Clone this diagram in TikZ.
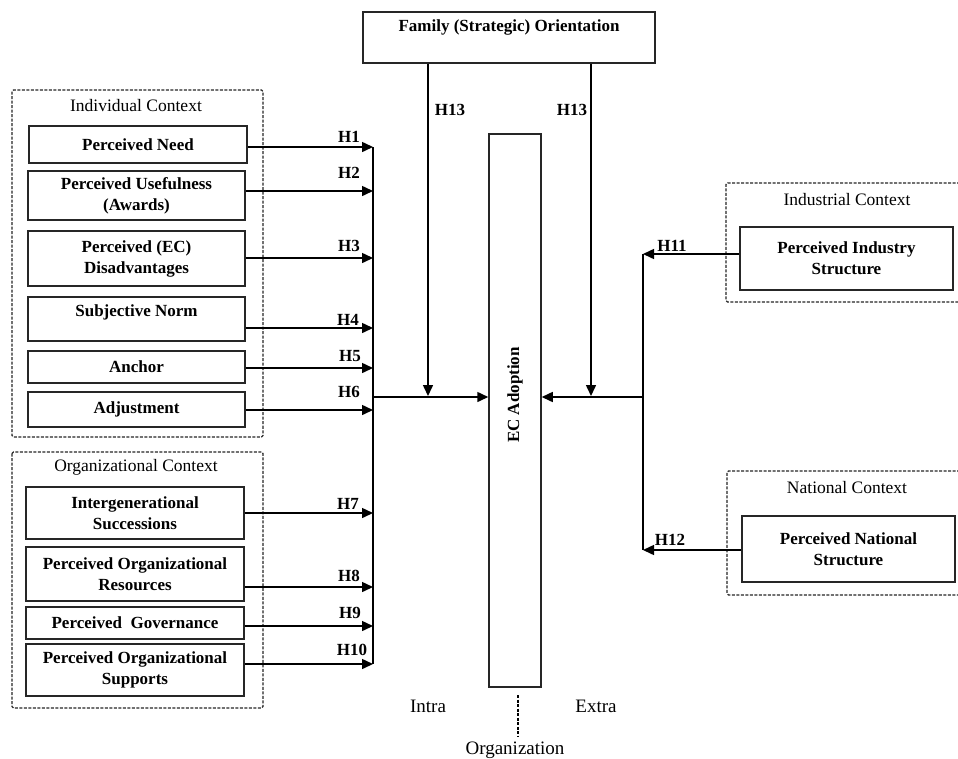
\documentclass[tikz,border=0pt]{standalone}
\usepackage{fontspec}
\setmainfont{Liberation Serif}
\usetikzlibrary{arrows.meta}
\begin{document}
\begin{tikzpicture}[x=1pt,y=-1pt,
 box/.style={draw=black!85,line width=1.5pt,rectangle,inner sep=0pt,align=center,font=\fontsize{17}{21}\selectfont\bfseries},
 btext/.style={inner sep=0pt,align=center,font=\fontsize{17}{21}\selectfont\bfseries},
 hlab/.style={inner sep=0pt,font=\fontsize{17}{20}\selectfont\bfseries},
 ctx/.style={inner sep=0pt,font=\fontsize{17.5}{21}\selectfont},
 bot/.style={inner sep=0pt,anchor=base,font=\fontsize{19}{22}\selectfont},
 ctxbox/.style={draw=black!85,line width=1.2pt,dash pattern=on 3pt off 1.5pt,rounded corners=1.5pt},
 arr/.style={line width=1.5pt,-{Triangle[length=11pt,width=10pt]}},
 ln/.style={line width=1.5pt}]
\useasboundingbox (0,0) rectangle (958,758);
\fill[white] (0,0) rectangle (958,758);

% context frames
\draw[ctxbox] (12,90) rectangle (263,437);
\draw[ctxbox] (12,452) rectangle (263,708);
\draw[ctxbox] (960,183) -- (726,183) -- (726,302) -- (960,302);
\draw[ctxbox] (960,471) -- (727,471) -- (727,595) -- (960,595);
\node[ctx] (icl) at (136,106) {Individual Context};
\node[ctx] (ocl) at (136,467) {Organizational Context};
\node[ctx] (incl) at (847,200) {Industrial Context};
\node[ctx] (nacl) at (847,488) {National Context};

% boxes
\node[box,minimum width=218pt,minimum height=37pt] (pn) at (138,144.5) {Perceived Need};
\node[box,minimum width=217pt,minimum height=49pt] (pu) at (136.5,195.5) {Perceived Usefulness\\(Awards)};
\node[box,minimum width=217pt,minimum height=55pt] (pd) at (136.5,258.5) {Perceived (EC)\\Disadvantages};
\node[box,minimum width=217pt,minimum height=44pt] (sn) at (136.5,319) {};
\node[btext] (snt) at (136.5,312) {Subjective Norm};
\node[box,minimum width=217pt,minimum height=32pt] (an) at (136.5,367) {Anchor};
\node[box,minimum width=217pt,minimum height=35pt] (ad) at (136.5,409.5) {Adjustment};
\node[box,minimum width=218pt,minimum height=52pt] (ig) at (135,513) {Intergenerational\\Successions};
\node[box,minimum width=218pt,minimum height=54pt] (po) at (135,574) {Perceived Organizational\\Resources};
\node[box,minimum width=218pt,minimum height=32pt] (pg) at (135,623) {Perceived\ \ Governance};
\node[box,minimum width=218pt,minimum height=52pt] (ps) at (135,670) {Perceived Organizational\\Supports};
\node[box,minimum width=292pt,minimum height=51pt] (fam) at (509,37.5) {};
\node[btext] (famt) at (509,27) {Family (Strategic) Orientation};
\node[box,minimum width=52pt,minimum height=553pt] (ec) at (515,410.5) {};
\node[btext,rotate=90] (ect) at (515,395) {EC Adoption};
\node[box,minimum width=213pt,minimum height=63pt] (pis) at (846.5,258.5) {Perceived Industry\\Structure};
\node[box,minimum width=213pt,minimum height=66pt] (pns) at (848.5,549) {Perceived National\\Structure};

% left bus
\coordinate (b1) at (373,147);
\coordinate (b2) at (373,191);
\coordinate (b3) at (373,258);
\coordinate (b4) at (373,328);
\coordinate (b5) at (373,368);
\coordinate (b6) at (373,410);
\coordinate (b7) at (373,513);
\coordinate (b8) at (373,587);
\coordinate (b9) at (373,626);
\coordinate (b10) at (373,664);
\coordinate (bm) at (373,397);
\draw[ln] (b1) -- (b10);
\draw[arr] (pn.east |- b1) -- (b1);
\draw[arr] (pu.east |- b2) -- (b2);
\draw[arr] (pd.east |- b3) -- (b3);
\draw[arr] (sn.east |- b4) -- (b4);
\draw[arr] (an.east |- b5) -- (b5);
\draw[arr] (ad.east |- b6) -- (b6);
\draw[arr] (ig.east |- b7) -- (b7);
\draw[arr] (po.east |- b8) -- (b8);
\draw[arr] (pg.east |- b9) -- (b9);
\draw[arr] (ps.east |- b10) -- (b10);
\draw[arr] (bm) -- (ec.west |- bm);

% H labels left
\node[hlab] (h1) at (349,137) {H1};
\node[hlab] (h2) at (349,173) {H2};
\node[hlab] (h3) at (349,246) {H3};
\node[hlab] (h4) at (348,320) {H4};
\node[hlab] (h5) at (350,356) {H5};
\node[hlab] (h6) at (349,392) {H6};
\node[hlab] (h7) at (348,504) {H7};
\node[hlab] (h8) at (349,576) {H8};
\node[hlab] (h9) at (350,613) {H9};
\node[hlab] (h10) at (352,650) {H10};

% family arrows
\coordinate (fl) at (428,396);
\coordinate (fr) at (591,396);
\draw[arr] (fam.south -| fl) -- (fl);
\draw[arr] (fam.south -| fr) -- (fr);
\node[hlab] (h13a) at (450,110) {H13};
\node[hlab] (h13b) at (572,110) {H13};

% right bus
\coordinate (r11) at (643,254);
\coordinate (r12) at (643,550);
\coordinate (rm) at (643,397);
\draw[ln] (r11) -- (r12);
\draw[arr] (pis.west |- r11) -- (r11);
\draw[arr] (pns.west |- r12) -- (r12);
\draw[arr] (rm) -- (ec.east |- rm);
\node[hlab] (h11) at (672,246) {H11};
\node[hlab] (h12) at (670,540) {H12};

% bottom
\node[bot] (intra) at (428,712) {Intra};
\node[bot] (extra) at (596,712) {Extra};
\node[bot] (org) at (515,754) {Organization};
\coordinate (o1) at (518,695);
\coordinate (o2) at (518,737);
\draw[line width=1.3pt,dash pattern=on 3pt off 1.5pt] (o1) -- (o2);
\end{tikzpicture}
\end{document}
